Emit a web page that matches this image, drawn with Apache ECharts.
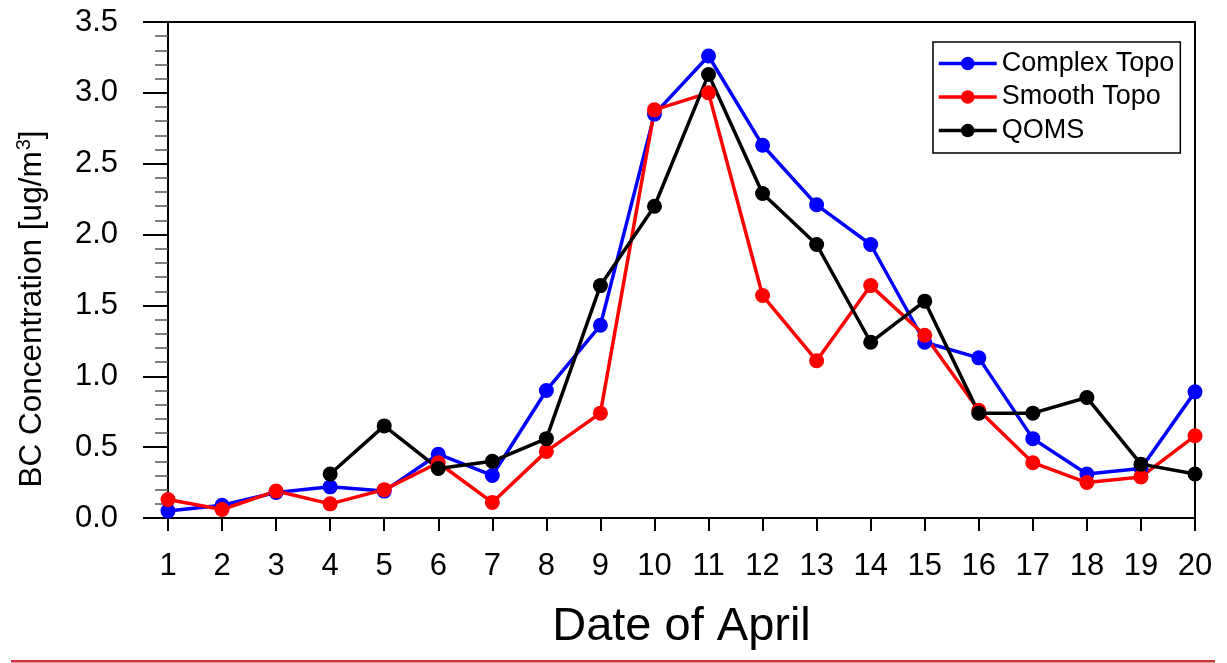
<!DOCTYPE html>
<html>
<head>
<meta charset="utf-8">
<title>BC Concentration, April</title>
<script src="https://cdn.jsdelivr.net/npm/echarts@6/dist/echarts.min.js"></script>
<style>
  html, body { margin: 0; padding: 0; background: #ffffff; }
  #chart { width: 1227px; height: 663px; }
</style>
</head>
<body>
<div id="chart"></div>
<script>
// Daily black-carbon concentration (ug/m3), 1-20 April
const days = [1, 2, 3, 4, 5, 6, 7, 8, 9, 10, 11, 12, 13, 14, 15, 16, 17, 18, 19, 20];
const complexTopo = [0.05, 0.09, 0.18, 0.22, 0.19, 0.45, 0.30, 0.90, 1.36, 2.85, 3.26, 2.63, 2.21, 1.93, 1.24, 1.13, 0.56, 0.31, 0.35, 0.89];
const smoothTopo  = [0.13, 0.06, 0.19, 0.10, 0.20, 0.39, 0.11, 0.47, 0.74, 2.88, 3.00, 1.57, 1.11, 1.64, 1.29, 0.76, 0.39, 0.25, 0.29, 0.58];
const qoms        = [null, null, null, 0.31, 0.65, 0.35, 0.40, 0.56, 1.64, 2.20, 3.13, 2.29, 1.93, 1.24, 1.53, 0.74, 0.74, 0.85, 0.38, 0.31];
const seriesNames = ['Complex Topo', 'Smooth Topo', 'QOMS'];
const yTicks = ['0.0', '0.5', '1.0', '1.5', '2.0', '2.5', '3.0', '3.5'];

const FONT = '"Liberation Sans", Arial, Helvetica, sans-serif';

function pairs(values) {
  return days.map((d, i) => [d, values[i]]);
}

function lineSeries(name, values, color) {
  return {
    name: name,
    type: 'line',
    data: pairs(values),
    connectNulls: false,
    symbol: 'circle',
    symbolSize: 15,
    showSymbol: true,
    lineStyle: { color: color, width: 3.5 },
    itemStyle: { color: color },
    emphasis: { disabled: true },
    animation: false
  };
}

const chart = echarts.init(document.getElementById('chart'), null, { renderer: 'canvas' });

chart.setOption({
  backgroundColor: '#ffffff',
  animation: false,
  grid: {
    left: 168, right: 32, top: 22, bottom: 145,
    show: true, borderColor: '#000000', borderWidth: 2,
    backgroundColor: 'transparent'
  },
  legend: {
    data: seriesNames,
    orient: 'vertical',
    left: 933,
    top: 42,
    itemWidth: 58,
    itemHeight: 17,
    itemGap: 6.5,
    padding: [8, 6, 9, 4],
    borderColor: '#000000',
    borderWidth: 1.5,
    backgroundColor: '#ffffff',
    selectedMode: false,
    lineStyle: { width: 3.5 },
    textStyle: { color: '#000000', fontSize: 27, lineHeight: 27, fontFamily: FONT }
  },
  xAxis: {
    type: 'value',
    min: 1,
    max: 20,
    interval: 1,
    name: 'Date of April',
    nameLocation: 'middle',
    nameGap: 86,
    nameTextStyle: { color: '#000000', fontSize: 47, fontFamily: FONT },
    axisLine: { show: true, lineStyle: { color: '#000000', width: 2 } },
    axisTick: { show: true, inside: false, length: 13, lineStyle: { color: '#000000', width: 2 } },
    axisLabel: { color: '#000000', fontSize: 31, fontFamily: FONT, margin: 33 },
    splitLine: { show: false }
  },
  yAxis: {
    type: 'value',
    min: 0,
    max: 3.5,
    interval: 0.5,
    axisLine: { show: true, lineStyle: { color: '#000000', width: 2 } },
    axisTick: { show: true, inside: false, length: 25, lineStyle: { color: '#000000', width: 2 } },
    minorTick: { show: true, splitNumber: 5, length: 13, lineStyle: { color: '#555555', width: 1.5 } },
    axisLabel: {
      color: '#000000', fontSize: 31, fontFamily: FONT, margin: 50,
      formatter: function (v) { return yTicks[Math.round(v / 0.5)]; }
    },
    splitLine: { show: false },
    minorSplitLine: { show: false }
  },
  series: [
    lineSeries(seriesNames[0], complexTopo, '#0000ff'),
    lineSeries(seriesNames[1], smoothTopo, '#ff0000'),
    lineSeries(seriesNames[2], qoms, '#000000')
  ],
  graphic: [
    {
      type: 'text',
      x: 32,
      y: 309,
      rotation: Math.PI / 2,
      style: {
        text: '{a|BC Concentration [ug/m}{s|3}{a|]}',
        align: 'center',
        verticalAlign: 'middle',
        fill: '#000000',
        rich: {
          a: { fontSize: 31.5, fontFamily: FONT, fill: '#000000', lineHeight: 36 },
          s: { fontSize: 20, fontFamily: FONT, fill: '#000000', lineHeight: 36, padding: [0, 0, 15, 1] }
        }
      },
      silent: true
    },
    {
      type: 'rect',
      shape: { x: 11, y: 660, width: 1204, height: 2.5 },
      style: { fill: '#cc3340' },
      silent: true
    }
  ]
});
</script>
</body>
</html>
